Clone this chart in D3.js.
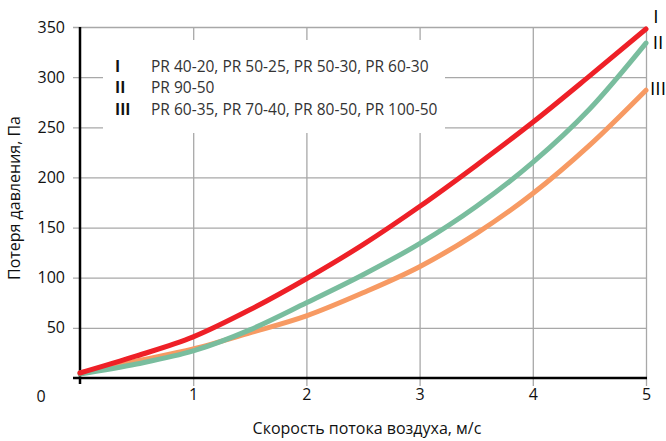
<!DOCTYPE html>
<html><head><meta charset="utf-8">
<script src="https://cdn.jsdelivr.net/npm/d3@7"></script>
<style>body{margin:0;background:#fff}svg{display:block}svg text{font-family:"Open Sans",sans-serif}</style>
</head><body><svg id="c" width="666" height="441"></svg>
<script>
const speeds = [0, 0.5, 1, 1.5, 2, 2.5, 3, 3.5, 4, 4.5, 5];
const seriesI   = [5, 22, 41, 68, 99, 133, 171, 212, 255, 301, 348];
const seriesII  = [4, 14, 27, 48, 75, 103, 134, 171, 215, 268, 334];
const seriesIII = [5, 17, 29, 45, 62, 85, 111, 144, 184, 232, 287];
const seriesNames = ["I", "II", "III"];
const legendLabels = ["PR 40-20, PR 50-25, PR 50-30, PR 60-30", "PR 90-50", "PR 60-35, PR 70-40, PR 80-50, PR 100-50"];
const colors = ["#ee2027", "#79bd9e", "#f79a63"];
const xTicks = [1, 2, 3, 4, 5];
const yTicks = [50, 100, 150, 200, 250, 300, 350];
const xTitle = "Скорость потока воздуха, м/с";
const yTitle = "Потеря давления, Па";

const svg = d3.select("#c");
const x = d3.scaleLinear().domain([0, 5]).range([80, 646]);
const y = d3.scaleLinear().domain([0, 350]).range([378, 27]);

// horizontal grid
const gy = svg.append("g").attr("transform", "translate(80,0)")
  .call(d3.axisLeft(y).tickValues(yTicks).tickSize(-566).tickSizeOuter(0).tickPadding(15).tickFormat(d3.format("d")));
gy.select(".domain").remove();
gy.attr("font-family", null);
gy.selectAll(".tick line").attr("stroke", "#a8a8a8").attr("stroke-width", 1.3).attr("x1", -7);
gy.selectAll(".tick text").attr("font-size", 16).attr("fill", "#111");

// vertical grid
const gx = svg.append("g").attr("transform", "translate(0,378)")
  .call(d3.axisBottom(x).tickValues(xTicks).tickSize(-351).tickSizeOuter(0).tickPadding(11).tickFormat(d3.format("d")));
gx.select(".domain").remove();
gx.attr("font-family", null);
gx.selectAll(".tick line").attr("stroke", "#a8a8a8").attr("stroke-width", 1.3).attr("y1", 8);
gx.selectAll(".tick text").attr("font-size", 16).attr("fill", "#111");

// zero label
svg.append("text").attr("x", 41).attr("y", 396).attr("dy", "0.35em").attr("text-anchor", "middle")
  .attr("font-size", 16).attr("fill", "#111").text("0");

// legend box
svg.append("rect").attr("x", 103).attr("y", 40).attr("width", 342).attr("height", 93).attr("fill", "#fff");
const leg = svg.append("g");
const rowsY = [67, 88, 110];
seriesNames.forEach((n, i) => {
  leg.append("text").attr("x", 115).attr("y", rowsY[i]).attr("dy", "0.35em").attr("font-size", 15.5)
    .attr("font-weight", "bold").attr("fill", "#111").text(n);
  leg.append("text").attr("x", 151).attr("y", rowsY[i]).attr("dy", "0.35em").attr("font-size", 15.5)
    .attr("fill", "#333").text(legendLabels[i]);
});

// axes lines
svg.append("line").attr("x1", 73).attr("x2", 647).attr("y1", 378).attr("y2", 378).attr("stroke", "#000").attr("stroke-width", 2.5);
svg.append("line").attr("x1", 80).attr("x2", 80).attr("y1", 27).attr("y2", 384).attr("stroke", "#000").attr("stroke-width", 2.5);

// curves
const all = [seriesI, seriesII, seriesIII];
const line = d3.line().x((d, i) => x(speeds[i])).y(d => y(d)).curve(d3.curveMonotoneX);
[2, 1, 0].forEach(k => {
  svg.append("path").attr("d", line(all[k])).attr("fill", "none").attr("stroke", colors[k])
    .attr("stroke-width", 5).attr("stroke-linecap", "round");
});

// end labels
const endPos = [[656, 16], [658, 42], [658, 88]];
seriesNames.forEach((n, i) => {
  svg.append("text").attr("x", endPos[i][0]).attr("y", endPos[i][1]).attr("dy", "0.35em").attr("text-anchor", "middle")
    .attr("font-size", 19).attr("fill", "#000").text(n);
});

// titles
svg.append("text").attr("x", 367).attr("y", 428).attr("dy", "0.35em").attr("text-anchor", "middle")
  .attr("font-size", 16).attr("fill", "#111").text(xTitle);
svg.append("text").attr("transform", "translate(14,198) rotate(-90)").attr("dy", "0.35em").attr("text-anchor", "middle")
  .attr("font-size", 16).attr("fill", "#111").text(yTitle);
</script></body></html>
